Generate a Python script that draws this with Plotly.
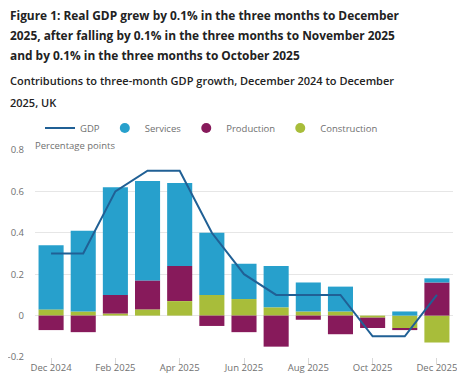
import plotly.graph_objects as go

months = ["Dec 2024", "Jan 2025", "Feb 2025", "Mar 2025", "Apr 2025", "May 2025",
          "Jun 2025", "Jul 2025", "Aug 2025", "Sep 2025", "Oct 2025", "Nov 2025", "Dec 2025"]
services = [0.31, 0.39, 0.52, 0.48, 0.40, 0.30, 0.17, 0.20, 0.14, 0.12, 0.0, 0.02, 0.02]
production = [-0.07, -0.08, 0.09, 0.14, 0.17, -0.05, -0.08, -0.15, -0.02, -0.09, -0.05, -0.01, 0.16]
construction = [0.03, 0.02, 0.01, 0.03, 0.07, 0.10, 0.08, 0.04, 0.02, 0.02, -0.01, -0.06, -0.13]
gdp = [0.3, 0.3, 0.6, 0.7, 0.7, 0.4, 0.2, 0.1, 0.1, 0.1, -0.1, -0.1, 0.1]

tick_months = ["Dec 2024", "Feb 2025", "Apr 2025", "Jun 2025", "Aug 2025", "Oct 2025", "Dec 2025"]
y_ticks = [-0.2, 0, 0.2, 0.4, 0.6, 0.8]
y_ticktext = ["-0.2", "0", "0.2", "0.4", "0.6", "0.8"]

title_lines = [
    "Figure 1: Real GDP grew by 0.1% in the three months to December",
    "2025, after falling by 0.1% in the three months to November 2025",
    "and by 0.1% in the three months to October 2025",
]
subtitle_lines = [
    "Contributions to three-month GDP growth, December 2024 to December",
    "2025, UK",
]

C_GDP = "#206095"
C_SERV = "#27a0cc"
C_PROD = "#871a5b"
C_CONS = "#a8bd3a"
FONT = "Open Sans"
GREY = "#707070"

# the page body has an 8px margin, so the figure is drawn 8px right and down
W, H = 457, 366

fig = go.Figure()
fig.add_trace(go.Bar(x=months, y=construction, name="Construction", marker_color=C_CONS,
                     marker_line_width=0, showlegend=False))
fig.add_trace(go.Bar(x=months, y=production, name="Production", marker_color=C_PROD,
                     marker_line_width=0, showlegend=False))
fig.add_trace(go.Bar(x=months, y=services, name="Services", marker_color=C_SERV,
                     marker_line_width=0, showlegend=False))
fig.add_trace(go.Scatter(x=months, y=gdp, name="GDP", mode="lines",
                         line=dict(color=C_GDP, width=2), legendrank=1))
for nm, col, rk in [("Services", C_SERV, 2), ("Production", C_PROD, 3), ("Construction", C_CONS, 4)]:
    fig.add_trace(go.Scatter(x=[None], y=[None], name=nm, mode="markers",
                             marker=dict(color=col, size=10, symbol="circle"), legendrank=rk))

annotations = []
title_y = [15, 34.5, 55]
for t, ty in zip(title_lines, title_y):
    annotations.append(dict(text=t, xref="paper", yref="paper", x=0, y=1, xanchor="left",
                            yanchor="middle", xshift=-27, yshift=150 - ty,
                            showarrow=False, font=dict(family=FONT, size=11.9, color="#222222", weight=700)))
for i, t in enumerate(subtitle_lines):
    annotations.append(dict(text=t, xref="paper", yref="paper", x=0, y=1, xanchor="left",
                            yanchor="middle", xshift=-27, yshift=150 - 80.5 - i * 22,
                            showarrow=False, font=dict(family=FONT, size=11, color="#222222", weight=600)))
annotations.append(dict(text="Percentage points", xref="paper", yref="paper", x=0, y=1,
                        xanchor="left", yanchor="bottom", xshift=-2, yshift=-4, showarrow=False,
                        font=dict(family=FONT, size=9.5, color=GREY)))

fig.update_layout(
    width=W, height=H,
    margin=dict(l=27, r=12, t=142, b=17, autoexpand=False),
    barmode="relative", bargap=0.22,
    plot_bgcolor="white", paper_bgcolor="white",
    font=dict(family=FONT, size=9.5, color=GREY),
    showlegend=True,
    legend=dict(orientation="h", xref="container", yref="container", x=32 / W, y=1 - 120 / H,
                xanchor="left", yanchor="middle",
                font=dict(family=FONT, size=9.5, color=GREY), traceorder="normal",
                bgcolor="rgba(0,0,0,0)", itemwidth=30),
    annotations=annotations,
    xaxis=dict(type="category", range=[-0.5, 12.5], tickmode="array", tickvals=tick_months,
               ticktext=tick_months, ticks="outside", ticklen=6, tickcolor="#d8d8d8",
               showgrid=False, showline=False, automargin=False, ticklabelstandoff=-4,
               tickfont=dict(family=FONT, size=9.5, color=GREY)),
    yaxis=dict(range=[-0.2, 0.8], tickmode="array", tickvals=y_ticks, ticktext=y_ticktext,
               showgrid=True, gridcolor="#e6e6e6", gridwidth=1, zeroline=False, automargin=False,
               ticks="", ticklabelstandoff=10, tickfont=dict(family=FONT, size=9.5, color=GREY)),
)

fig.write_html("out.html")
